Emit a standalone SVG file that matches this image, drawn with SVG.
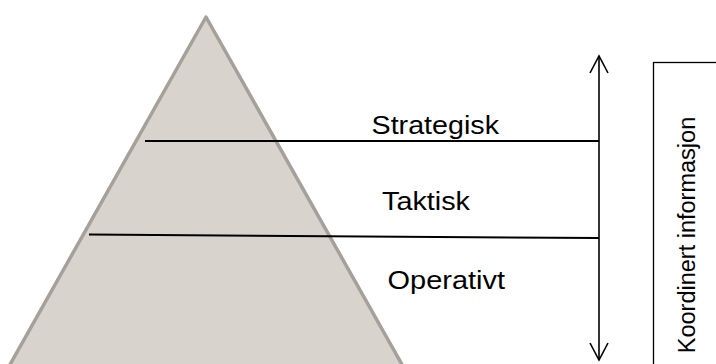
<svg xmlns="http://www.w3.org/2000/svg" width="716" height="364" viewBox="0 0 716 364">
  <defs>
    <style>
      .lbl { font-family: "Liberation Sans", Arial, sans-serif; font-size: 26px; fill: #000; }
      .side { font-family: "Liberation Sans", Arial, sans-serif; font-size: 23.5px; fill: #000; }
      .ln { stroke: #000; stroke-width: 2; fill: none; }
    </style>
    <marker id="open" viewBox="0 0 20 20" refX="18" refY="10" markerWidth="20" markerHeight="20" markerUnits="userSpaceOnUse" orient="auto-start-reverse">
      <path d="M1,1 L18,10 L1,19" fill="none" stroke="#000" stroke-width="1.6"/>
    </marker>
  </defs>
  <rect width="716" height="364" fill="#fff"/>
  <g id="pyramid">
    <polygon points="206,17 -10,400 422,400" fill="#d9d3ce" stroke="#a5a09a" stroke-width="3.5" stroke-linejoin="round"/>
  </g>
  <g id="connectors">
    <line class="ln" x1="145" y1="141" x2="599" y2="141"/>
    <line class="ln" x1="89" y1="234.5" x2="599" y2="238"/>
    <line x1="599" y1="56" x2="599" y2="360" stroke="#000" stroke-width="1.6" marker-start="url(#open)" marker-end="url(#open)"/>
  </g>
  <g id="strategisk">
    <text class="lbl" x="371.5" y="133.5" textLength="127.5" lengthAdjust="spacingAndGlyphs">Strategisk</text>
  </g>
  <g id="taktisk">
    <text class="lbl" x="382" y="210" textLength="88" lengthAdjust="spacingAndGlyphs">Taktisk</text>
  </g>
  <g id="operativt">
    <text class="lbl" x="387.5" y="288.5" textLength="117.5" lengthAdjust="spacingAndGlyphs">Operativt</text>
  </g>
  <g id="koordinert">
    <rect x="653.5" y="62.5" width="80" height="320" fill="none" stroke="#000" stroke-width="1.3"/>
    <text class="side" transform="translate(695,235) rotate(-90)" text-anchor="middle">Koordinert informasjon</text>
  </g>
</svg>
